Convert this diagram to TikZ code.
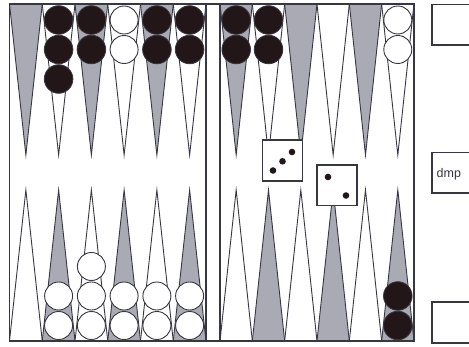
\documentclass[tikz,border=0pt]{standalone}
\usepackage{fontspec}
\setmainfont{Liberation Sans}
\definecolor{boardline}{RGB}{55,55,65}
\definecolor{ptgray}{RGB}{170,170,180}
\definecolor{chkblack}{RGB}{35,22,25}
\tikzset{
  pointwhite/.style={draw=boardline, line width=0.9pt, fill=white},
  pointgray/.style={draw=boardline, line width=0.9pt, fill=ptgray},
  blackchk/.style={draw=boardline, line width=0.8pt, fill=chkblack},
  whitechk/.style={draw=boardline, line width=0.9pt, fill=white},
  boardframe/.style={draw=boardline, line width=1.7pt},
  diebox/.style={draw=boardline, line width=1.6pt, fill=white},
  pip/.style={fill=chkblack},
  sidebox/.style={draw=boardline, line width=1.5pt, fill=white},
}
\begin{document}
\begin{tikzpicture}[x=1pt,y=-1pt]
\useasboundingbox (0,0) rectangle (469,347);
\fill[white] (0,0) rectangle (469,347);
% points, left half
\foreach \i in {0,...,5}{
  \pgfmathsetmacro{\a}{9.5+\i*32.75}
  \pgfmathsetmacro{\b}{9.5+(\i+1)*32.75}
  \pgfmathsetmacro{\c}{9.5+(\i+0.5)*32.75}
  \pgfmathparse{int(mod(\i,2))}
  \ifnum\pgfmathresult=0
    \draw[pointgray] (\a,4) -- (\c,155) -- (\b,4) -- cycle;
    \draw[pointwhite] (\a,341) -- (\c,190) -- (\b,341) -- cycle;
  \else
    \draw[pointwhite] (\a,4) -- (\c,155) -- (\b,4) -- cycle;
    \draw[pointgray] (\a,341) -- (\c,190) -- (\b,341) -- cycle;
  \fi
}
% points, right half
\foreach \i in {0,...,5}{
  \pgfmathsetmacro{\a}{220+\i*32.33}
  \pgfmathsetmacro{\b}{220+(\i+1)*32.33}
  \pgfmathsetmacro{\c}{220+(\i+0.5)*32.33}
  \pgfmathparse{int(mod(\i,2))}
  \ifnum\pgfmathresult=0
    \draw[pointgray] (\a,4) -- (\c,155) -- (\b,4) -- cycle;
    \draw[pointwhite] (\a,341) -- (\c,190) -- (\b,341) -- cycle;
  \else
    \draw[pointwhite] (\a,4) -- (\c,155) -- (\b,4) -- cycle;
    \draw[pointgray] (\a,341) -- (\c,190) -- (\b,341) -- cycle;
  \fi
}
% board frame and bar
\draw[boardframe] (9.5,4) rectangle (414,341);
\draw[boardframe] (206,4) -- (206,341);
\draw[boardframe] (220,4) -- (220,341);
% checkers top-left
\foreach \x/\y in {58.6/20, 58.6/49.5, 58.6/79, 91.4/20, 91.4/49.5,
                   156.9/20, 156.9/49.5, 189.6/20, 189.6/49.5}
  \draw[blackchk] (\x,\y) circle[radius=14.3pt];
\foreach \x/\y in {124.1/20, 124.1/49.5}
  \draw[whitechk] (\x,\y) circle[radius=14pt];
% checkers top-right
\foreach \x/\y in {236.2/20, 236.2/49.5, 268.5/20, 268.5/49.5}
  \draw[blackchk] (\x,\y) circle[radius=14.3pt];
\foreach \x/\y in {397.8/20, 397.8/49.5}
  \draw[whitechk] (\x,\y) circle[radius=14pt];
% checkers bottom-left
\foreach \x/\y in {58.6/325.5, 58.6/296, 91.4/325.5, 91.4/296, 91.4/266.5,
                   124.1/325.5, 124.1/296, 156.9/325.5, 156.9/296,
                   189.6/325.5, 189.6/296}
  \draw[whitechk] (\x,\y) circle[radius=14pt];
% checkers bottom-right
\foreach \x/\y in {397.8/325.5, 397.8/296}
  \draw[blackchk] (\x,\y) circle[radius=14.3pt];
% dice
\draw[diebox] (262.5,140) rectangle (302.5,181);
\fill[pip] (292,152) circle[radius=3.3pt];
\fill[pip] (282.5,161.3) circle[radius=3.3pt];
\fill[pip] (273,170.5) circle[radius=3.3pt];
\draw[diebox] (317,165) rectangle (357,205.5);
\fill[pip] (328,177) circle[radius=3.3pt];
\fill[pip] (346,195.5) circle[radius=3.3pt];
% side boxes
\draw[sidebox] (432,4.5) rectangle (485,45);
\draw[sidebox] (432,152.5) rectangle (485,193);
\draw[sidebox] (432,302) rectangle (485,343);
\node[anchor=base west, inner sep=0pt, font=\fontsize{12.5}{14}\selectfont, text=boardline] (dmp) at (436.5,177.5) {dmp};
\end{tikzpicture}
\end{document}
